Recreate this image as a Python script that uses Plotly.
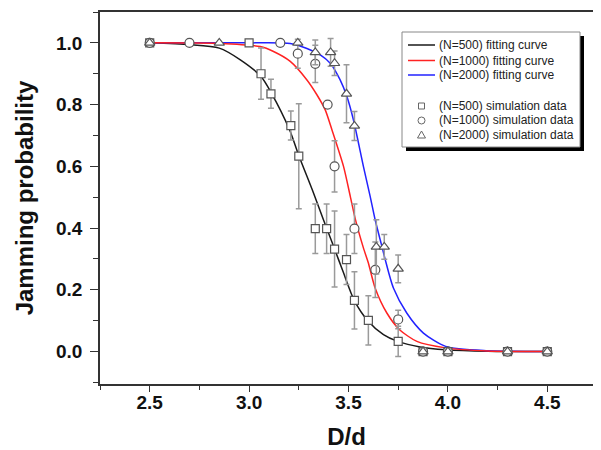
import plotly.graph_objects as go

# ---- fitting curves ----
fit500_x = [2.5, 2.7, 2.85, 2.956, 3.06, 3.11, 3.204, 3.249, 3.324, 3.374, 3.425, 3.475, 3.529, 3.596, 3.676, 3.748, 3.86, 3.99, 4.2, 4.5]
fit500_y = [1.0, 0.994, 0.983, 0.945, 0.891, 0.84, 0.718, 0.637, 0.514, 0.427, 0.341, 0.255, 0.166, 0.101, 0.055, 0.033, 0.015, 0.006, 0.001, 0.0]

fit1000_x = [2.5, 2.85, 3.056, 3.123, 3.207, 3.291, 3.341, 3.383, 3.417, 3.475, 3.509, 3.534, 3.575, 3.600, 3.634, 3.693, 3.757, 3.844, 3.989, 4.2, 4.5]
fit1000_y = [1.0, 0.998, 0.988, 0.972, 0.94, 0.88, 0.832, 0.783, 0.718, 0.60, 0.503, 0.43, 0.336, 0.287, 0.206, 0.125, 0.071, 0.033, 0.012, 0.002, 0.0]

fit2000_x = [2.5, 3.0, 3.207, 3.291, 3.358, 3.408, 3.458, 3.492, 3.525, 3.575, 3.609, 3.634, 3.668, 3.684, 3.726, 3.793, 3.877, 3.989, 4.2, 4.5]
fit2000_y = [1.0, 1.0, 0.998, 0.982, 0.961, 0.934, 0.880, 0.826, 0.75, 0.60, 0.503, 0.427, 0.341, 0.30, 0.206, 0.125, 0.06, 0.017, 0.003, 0.0]

# ---- simulation data ----
sim500_x = [2.5, 3.0, 3.06, 3.11, 3.21, 3.25, 3.333, 3.39, 3.43, 3.49, 3.53, 3.60, 3.75, 3.875, 4.0, 4.3, 4.5]
sim500_y = [1.0, 1.0, 0.90, 0.835, 0.732, 0.633, 0.398, 0.398, 0.332, 0.298, 0.166, 0.101, 0.033, 0.0, 0.0, 0.0, 0.0]
sim500_err = [0, 0, 0.083, 0.047, 0.047, 0.17, 0.08, 0.08, 0.123, 0.081, 0.093, 0.08, 0.049, 0, 0, 0, 0]

sim1000_x = [2.5, 2.7, 3.157, 3.245, 3.333, 3.395, 3.43, 3.53, 3.635, 3.75, 3.875, 4.0, 4.3, 4.5]
sim1000_y = [1.0, 1.0, 1.0, 0.965, 0.932, 0.80, 0.60, 0.398, 0.265, 0.104, 0.0, 0.0, 0.0, 0.0]
sim1000_err = [0, 0, 0, 0.047, 0.06, 0, 0.083, 0.08, 0.09, 0.03, 0, 0, 0, 0]

sim2000_x = [2.5, 2.85, 3.245, 3.333, 3.41, 3.43, 3.49, 3.53, 3.64, 3.68, 3.75, 3.875, 4.0, 4.3, 4.5]
sim2000_y = [1.0, 1.0, 1.0, 0.969, 0.969, 0.934, 0.835, 0.731, 0.339, 0.339, 0.268, 0.0, 0.0, 0.0, 0.0]
sim2000_err = [0, 0, 0, 0.04, 0.045, 0.04, 0.094, 0.047, 0.088, 0.04, 0.045, 0, 0, 0, 0]

x_ticks = [2.5, 3.0, 3.5, 4.0, 4.5]
y_ticks = [0.0, 0.2, 0.4, 0.6, 0.8, 1.0]

curve_names = ["(N=500) fitting curve", "(N=1000) fitting curve", "(N=2000) fitting curve"]
sim_names = ["(N=500) simulation data", "(N=1000) simulation data", "(N=2000) simulation data"]

FONT = "Arial, Liberation Sans, sans-serif"
C_BLACK, C_RED, C_BLUE = "#1a1a1a", "#ff2222", "#2222ff"
MARK_LINE = "#555555"

W, H = 601, 450
# target plot rectangle on the final picture (pixels)
PL, PR, PT, PB = 100, 593, 12, 384
# the page shows the figure shifted by the body margin
OFF = 8.0
L = PL - OFF
R = W - (PR - OFF)
T = PT - OFF
B = H - (PB - OFF)


def paper(px, py):
    return (px - PL) / (PR - PL), (PB - py) / (PB - PT)


fig = go.Figure()

# curves: draw black, blue, red (red on top)
for name, xs, ys, col in [
    (curve_names[0], fit500_x, fit500_y, C_BLACK),
    (curve_names[2], fit2000_x, fit2000_y, C_BLUE),
    (curve_names[1], fit1000_x, fit1000_y, C_RED),
]:
    fig.add_trace(go.Scatter(
        x=xs, y=ys, mode="lines", name=name, showlegend=False,
        line=dict(color=col, width=1.5, shape="spline", smoothing=0.7),
    ))

for name, xs, ys, err, sym, sz in [
    (sim_names[0], sim500_x, sim500_y, sim500_err, "square", 8),
    (sim_names[1], sim1000_x, sim1000_y, sim1000_err, "circle", 9),
    (sim_names[2], sim2000_x, sim2000_y, sim2000_err, "triangle-up", 9),
]:
    fig.add_trace(go.Scatter(
        x=xs, y=ys, mode="markers", name=name, showlegend=False,
        marker=dict(symbol=sym, size=sz, color="white",
                    line=dict(color=MARK_LINE, width=1.2)),
        error_y=dict(type="data", array=err, visible=True,
                     color="#9a9a9a", thickness=1.5, width=3),
    ))

tickfont = dict(family=FONT, size=19, color="#111111", weight="bold")
titlefont = dict(family=FONT, size=24, color="#111111", weight="bold")

fig.update_layout(
    xaxis=dict(
        range=[2.25, 4.73], tickvals=x_ticks, ticktext=[f"{v:.1f}" for v in x_ticks],
        showline=True, linecolor="#333333", linewidth=1.5, mirror=True,
        ticks="outside", ticklen=6, tickwidth=1.2, tickcolor="#333333",
        minor=dict(dtick=0.25, tick0=2.25, ticks="outside", ticklen=4, tickcolor="#333333"),
        showgrid=False, zeroline=False, tickfont=tickfont, ticklabelstandoff=-6,
        title=dict(text="D/d", font=titlefont, standoff=17),
    ),
    xaxis2=dict(
        range=[2.25, 4.73], overlaying="x", side="top", anchor="y",
        tickvals=x_ticks, ticks="inside", ticklen=7, tickwidth=1.2, tickcolor="#555555",
        showticklabels=False, showline=False, showgrid=False, zeroline=False,
    ),
    yaxis=dict(
        range=[-0.105, 1.1], tickvals=y_ticks, ticktext=[f"{v:.1f}" for v in y_ticks],
        showline=True, linecolor="#333333", linewidth=1.5, mirror="ticks",
        ticks="outside", ticklen=8, tickwidth=1.2, tickcolor="#333333",
        minor=dict(dtick=0.1, tick0=0, ticks="outside", ticklen=5, tickcolor="#333333"),
        showgrid=False, zeroline=False, tickfont=tickfont, ticklabelstandoff=4,
        title=dict(text="Jamming probability", font=titlefont, standoff=16),
    ),
    width=W, height=H,
    margin=dict(l=L, r=R, t=T, b=B, autoexpand=False),
    paper_bgcolor="white", plot_bgcolor="white",
    font=dict(family=FONT),
    showlegend=False,
)

# ---- hand-built legend box (shadow, frame, keys, texts) ----
bx0, by0, bx1, by1 = 402, 32, 580, 147
sx0, sy0 = paper(bx0 + 4, by0 + 4)
sx1, sy1 = paper(bx1 + 4, by1 + 4)
fig.add_shape(type="rect", xref="paper", yref="paper", x0=sx0, x1=sx1, y0=sy1, y1=sy0,
              fillcolor="black", line=dict(width=0), layer="above")
fx0, fy0 = paper(bx0, by0)
fx1, fy1 = paper(bx1, by1)
fig.add_shape(type="rect", xref="paper", yref="paper", x0=fx0, x1=fx1, y0=fy1, y1=fy0,
              fillcolor="white", line=dict(color="#888888", width=1), layer="above")

row_y = [45, 60.5, 75, 106, 120.5, 135]
key_cx = 421.5
text_x = 437
legend_font = dict(family=FONT, size=12, color="#222222")

for i, (name, col) in enumerate(zip(curve_names, [C_BLACK, C_RED, C_BLUE])):
    ax, ay = paper(key_cx, row_y[i])
    fig.add_shape(type="line", xref="paper", yref="paper",
                  xsizemode="pixel", ysizemode="pixel", xanchor=ax, yanchor=ay,
                  x0=-13.5, x1=13.5, y0=0, y1=0,
                  line=dict(color=col, width=1.5), layer="above")
    tx, ty = paper(text_x, row_y[i])
    fig.add_annotation(x=tx, y=ty, xref="paper", yref="paper", text=name,
                       showarrow=False, xanchor="left", yanchor="middle", font=legend_font)

key_shapes = [
    dict(type="rect", x0=-3, x1=3, y0=-3, y1=3),
    dict(type="circle", x0=-3.5, x1=3.5, y0=-3.5, y1=3.5),
    dict(type="path", path="M-4,-3 L4,-3 L0,4 Z"),
]
for i, (name, ks) in enumerate(zip(sim_names, key_shapes)):
    ax, ay = paper(key_cx, row_y[3 + i])
    fig.add_shape(xref="paper", yref="paper", xsizemode="pixel", ysizemode="pixel",
                  xanchor=ax, yanchor=ay, fillcolor="white",
                  line=dict(color="#666666", width=1), layer="above", **ks)
    tx, ty = paper(text_x, row_y[3 + i])
    fig.add_annotation(x=tx, y=ty, xref="paper", yref="paper", text=name,
                       showarrow=False, xanchor="left", yanchor="middle", font=legend_font)

fig.write_html("out.html")
